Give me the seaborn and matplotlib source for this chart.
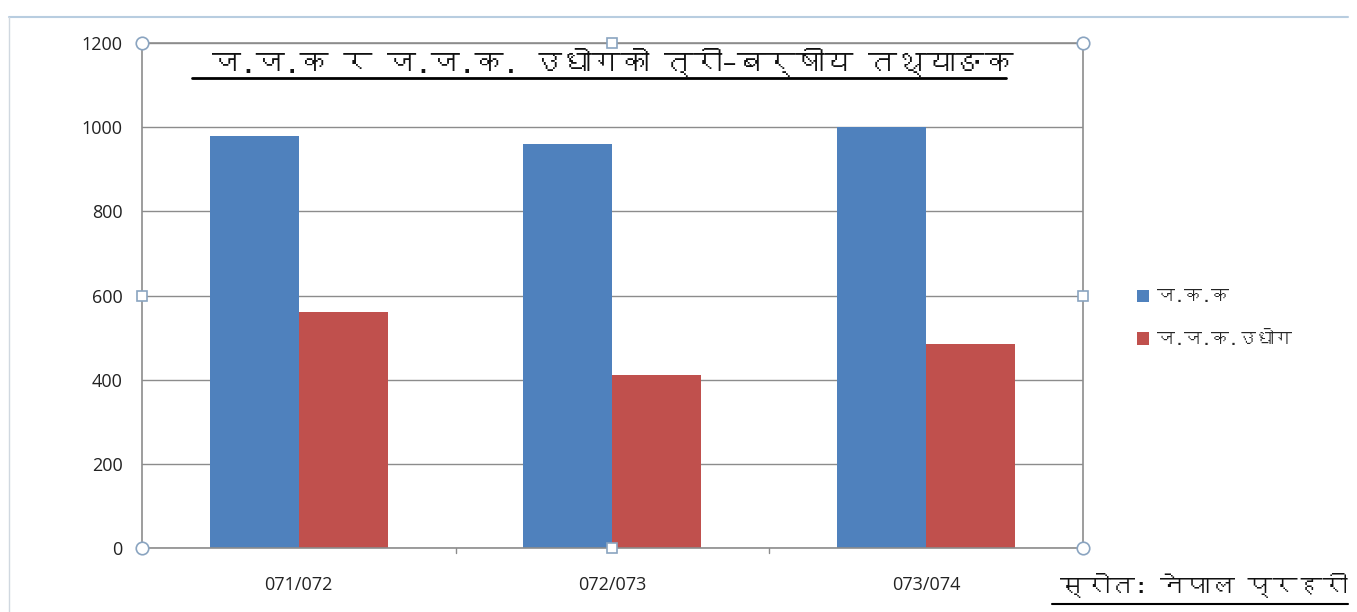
import matplotlib
matplotlib.use("Agg")
import matplotlib.pyplot as plt
from matplotlib import font_manager
from matplotlib.ft2font import FT2Font
from matplotlib.lines import Line2D
import pandas as pd
import seaborn as sns

years = ["071/072", "072/073", "073/074"]
series_names = ["ज.क.क", "ज.ज.क.उधोग"]
jkk_values = [980, 960, 1000]
jjk_udhog_values = [560, 410, 485]
title_text = "ज.ज.क र ज.ज.क. उधोगको त्री–बर्षीय तथ्याङक"
source_text = "स्रोत: नेपाल प्रहरी"


def find_devanagari_font():
    # look for any installed font that has Devanagari glyphs
    for f in font_manager.fontManager.ttflist:
        try:
            cmap = FT2Font(f.fname).get_charmap()
        except Exception:
            continue
        if 0x091C in cmap and 0x0915 in cmap:
            return f.name
    return None


sns.set_theme(style="white")
deva = find_devanagari_font()
families = ([deva] if deva else []) + ["DejaVu Sans"]
plt.rcParams["font.family"] = families

df = pd.DataFrame({
    "year": years * 2,
    "series": [series_names[0]] * 3 + [series_names[1]] * 3,
    "value": jkk_values + jjk_udhog_values,
})

fig = plt.figure(figsize=(13.57, 6.12), dpi=100)
ax = fig.add_axes([0.1046, 0.1046, 0.6934, 0.8251])

sns.barplot(data=df, x="year", y="value", hue="series",
            palette=["#4F81BD", "#C0504D"], width=0.567,
            saturation=1, linewidth=0, ax=ax, legend=True)

ax.set_ylim(0, 1200)
ax.set_yticks(range(0, 1201, 200))
ax.set_xlim(-0.5, 2.5)
ax.yaxis.grid(True, color="#8c8c8c", linewidth=1)
ax.set_axisbelow(True)
ax.set_xlabel("")
ax.set_ylabel("")
for s in ax.spines.values():
    s.set_color("#8c8c8c")
    s.set_linewidth(1.2)
ax.tick_params(axis="y", length=0, labelsize=13, pad=14, colors="#222222")
ax.tick_params(axis="x", length=0, labelsize=13, pad=20, colors="#222222")
ax.set_xticks([0, 1, 2], years, family=["Open Sans", "DejaVu Sans"])
for lab in ax.get_yticklabels():
    lab.set_family(["Open Sans", "DejaVu Sans"])

# small category separator ticks on x axis
for xb in [0.5, 1.5]:
    ax.plot([xb, xb], [0, -12], color="#8c8c8c", lw=1, clip_on=False)

# selection handles around the plot area (as in the screenshot)
for hx, hy, m in [(0, 0, "o"), (1, 0, "o"), (0, 1, "o"), (1, 1, "o"),
                  (0.5, 0, "s"), (0.5, 1, "s"), (0, 0.5, "s"), (1, 0.5, "s")]:
    ax.plot(hx, hy, marker=m, ms=9 if m == "o" else 7, mfc="white",
            mec="#8aa4c0", mew=1.2, transform=ax.transAxes, clip_on=False,
            zorder=5)

ax.text(0.5, 0.94, title_text, transform=ax.transAxes, ha="center",
        va="baseline", fontsize=21, color="#111111")
ax.add_line(Line2D([0.053, 0.918], [0.93, 0.93], transform=ax.transAxes,
                   color="black", lw=2))

leg = ax.legend(loc="center left", bbox_to_anchor=(1.04, 0.455), frameon=False,
                fontsize=13, handlelength=0.7, handleheight=0.7,
                labelspacing=1.4, handletextpad=0.4)

fig.text(0.993, 0.027, source_text, ha="right", va="baseline", fontsize=18,
         color="#111111")
fig.add_artist(Line2D([0.775, 0.993], [0.013, 0.013], color="black", lw=1.5))

# picture frame edges
fig.add_artist(Line2D([0.007, 0.993], [0.972, 0.972], color="#b8cde0", lw=1.5))
fig.add_artist(Line2D([0.007, 0.007], [0.0, 0.972], color="#d0d8e0", lw=1))

fig.savefig("out.png", dpi=100, facecolor="white")
